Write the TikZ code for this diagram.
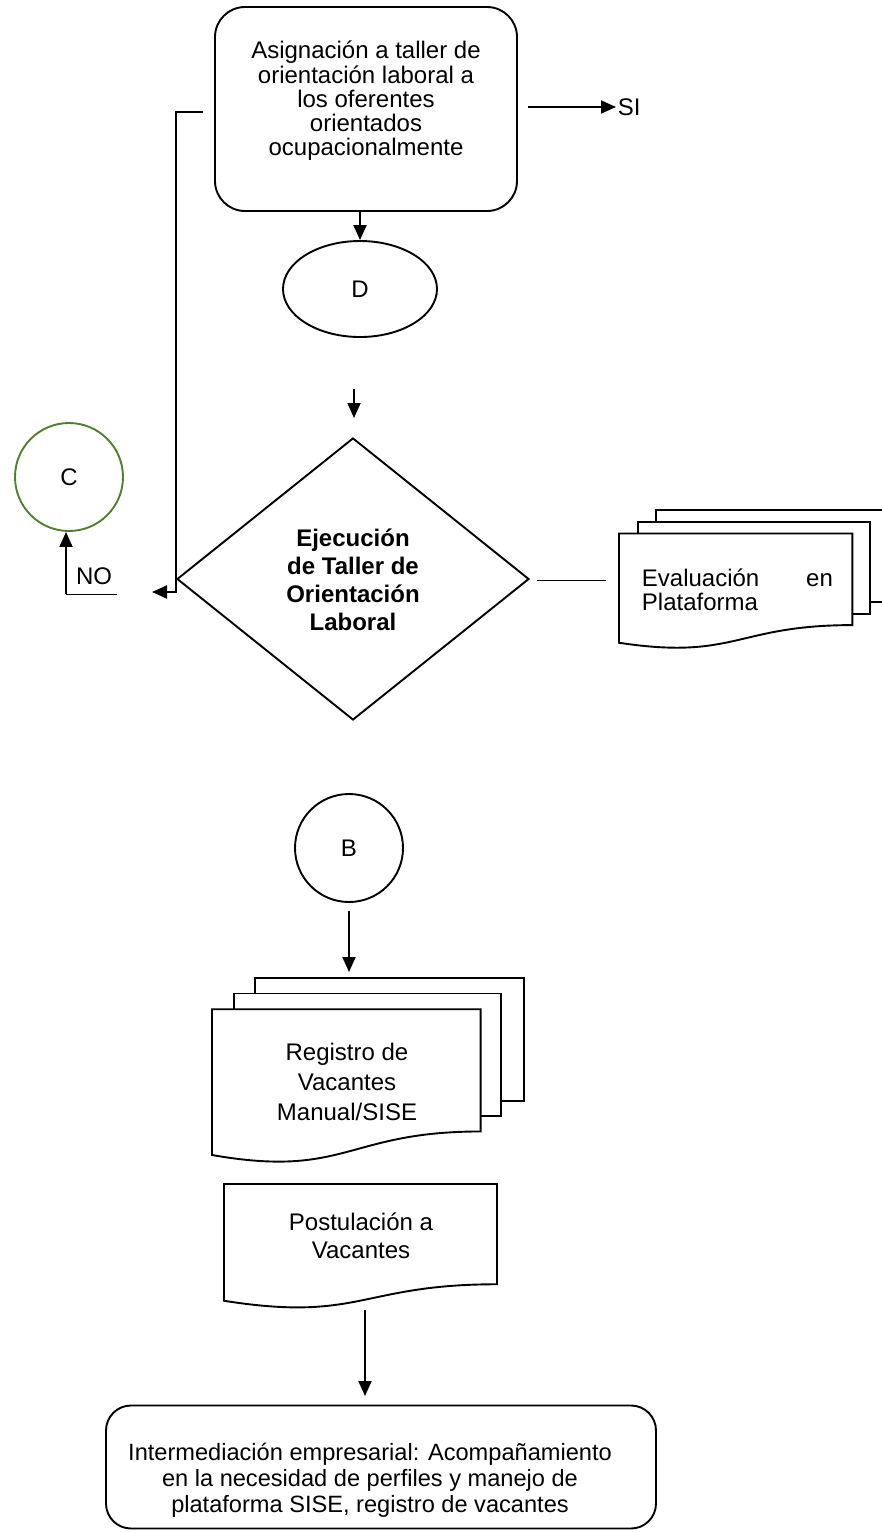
\documentclass[tikz,border=0pt]{standalone}
\usepackage{fontspec}
\setmainfont{Liberation Sans}
\usetikzlibrary{arrows.meta,calc,shapes.geometric}
\definecolor{cgreen}{RGB}{80,128,48}
\begin{document}
\begin{tikzpicture}[x=1pt,y=-1pt,
  line width=1.9pt,
  arr/.style={-{Triangle[length=15pt,width=13pt]}},
  thinline/.style={line width=1pt},
  txt/.style={font=\fontsize{24}{24.3}\selectfont, align=center, inner sep=0pt},
  box/.style={draw, rounded corners=30pt, inner sep=0pt},
  conn/.style={draw, circle, minimum size=108pt, inner sep=0pt, font=\fontsize{24}{24}\selectfont},
  docfill/.style={draw, fill=white, line width=1.9pt}
]
\useasboundingbox (0,0) rectangle (882,1532);

% ---------- top box ----------
\node[box, minimum width=302pt, minimum height=204pt] (asig) at (366,109) {};
\node[txt] (asigtext) at (366,101) {Asignación a taller de\\orientación laboral a\\los oferentes\\orientados\\ocupacionalmente};

% SI
\node[txt, anchor=west, inner sep=1pt] (si) at (616,107) {SI};
\coordinate (siStart) at (528,107);
\draw[arr] (siStart) -- (si.west);

% D
\node[draw, ellipse, minimum width=154pt, minimum height=96pt, inner sep=0pt, font=\fontsize{24}{24}\selectfont] (D) at (360,289) {D};
\draw[arr] (asig.south -| D.north) -- (D.north);

% free arrow to decision
\coordinate (fa1) at (354,389);
\coordinate (fa2) at (354,418);
\draw[arr] (fa1) -- (fa2);

% decision
\node[draw, diamond, minimum width=352pt, minimum height=282pt, inner sep=0pt] (dec) at (353,579) {};
\node[font=\bfseries\fontsize{24}{28}\selectfont, align=center, inner sep=0pt] (dectext) at (353,580) {Ejecución\\de Taller de\\Orientación\\Laboral};

% left loop
\coordinate (loopA) at (203,112);
\coordinate (loopB) at (176,112);
\coordinate (loopC) at (176,592);
\coordinate (loopEnd) at (152,592);
\draw[arr] (loopA) -- (loopB) -- (loopC) -- (loopEnd);

% C and NO
\node[conn, draw=cgreen] (C) at (69,477) {C};
\coordinate (noA) at (66,594);
\coordinate (noB) at (117,594);
\draw[arr] (noA) -- (noA |- C.south);
\draw[thinline] (noA) -- (noB);
\node[txt] (no) at (94,576) {NO};

% connector diamond -> evaluation doc
\coordinate (evA) at (537,580);
\coordinate (evB) at (606,580);
\draw[thinline] (evA) -- (evB);

% Evaluación multidocument
\begin{scope}[shift={(619,510)}, xscale=271, yscale=138]
  \draw[docfill] (0.1376,0) rectangle (1,0.666);
  \draw[docfill] (0.071,0.084) rectangle (0.926,0.752);
  \draw[docfill] (0,0.170) -- (0.861,0.170) -- (0.861,0.834) .. controls (0.4305,0.834) and (0.4305,1.090) .. (0,0.962) -- cycle;
\end{scope}
\node[txt, anchor=west, align=left] (eval) at (641,590) {\makebox[191pt][s]{Evaluación en}\\Plataforma};

% B
\node[conn] (B) at (349,848) {B};
\coordinate (regTop) at (349,972);
\draw[arr] ($(B.south)+(0,8)$) -- (regTop);

% Registro multidocument
\begin{scope}[shift={(212,978)}, xscale=312, yscale=184]
  \draw[docfill] (0.1376,0) rectangle (1,0.666);
  \draw[docfill] (0.071,0.084) rectangle (0.926,0.752);
  \draw[docfill] (0,0.170) -- (0.861,0.170) -- (0.861,0.834) .. controls (0.4305,0.834) and (0.4305,1.090) .. (0,0.962) -- cycle;
\end{scope}
\node[txt, font=\fontsize{24}{30}\selectfont] (registro) at (347,1082) {Registro de\\Vacantes\\Manual/SISE};

% Postulación document
\begin{scope}[shift={(224,1184)}, xscale=273, yscale=125]
  \draw[docfill] (0,0) -- (1,0) -- (1,0.802) .. controls (0.5,0.802) and (0.5,1.107) .. (0,0.934) -- cycle;
\end{scope}
\node[txt, font=\fontsize{24}{28}\selectfont] (post) at (361,1236) {Postulación a\\Vacantes};

% bottom box
\node[box, rounded corners=25pt, minimum width=550pt, minimum height=123pt] (final) at (381,1467) {};
\node[txt, font=\fontsize{23.6}{26}\selectfont] (finaltext) at (370,1480) {Intermediación empresarial: Acompañamiento\\en la necesidad de perfiles y manejo de\\plataforma SISE, registro de vacantes};
\coordinate (pA) at (365,1310);
\draw[arr] (pA) -- (pA |- 0,1396);
\end{tikzpicture}
\end{document}
